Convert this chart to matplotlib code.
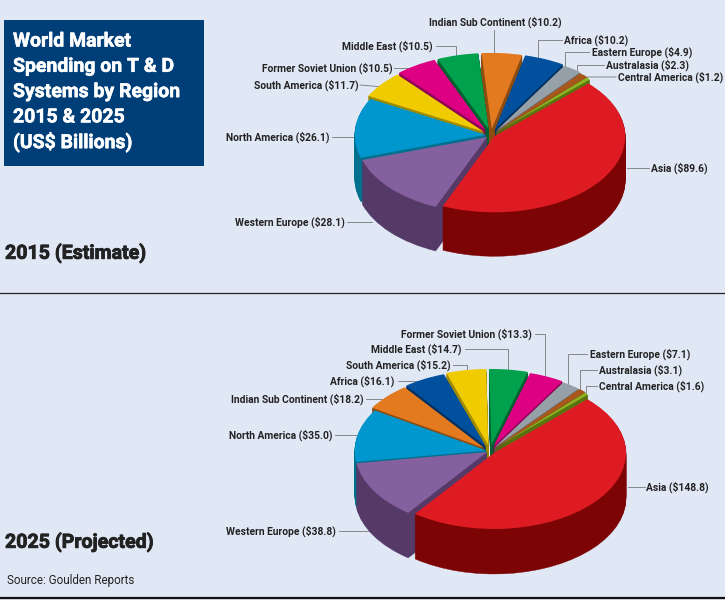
import math
import matplotlib
matplotlib.use("Agg")
import matplotlib.pyplot as plt
import matplotlib.patheffects as pe
from matplotlib.patches import Rectangle

W, H = 725, 600
BG = "#E0E8F5"
plt.rcParams['font.family'] = ['Roboto', 'Liberation Sans', 'DejaVu Sans']

# Data
regions_2015 = ["Asia", "Western Europe", "North America", "South America", "Former Soviet Union",
                "Middle East", "Indian Sub Continent", "Africa", "Eastern Europe", "Australasia",
                "Central America"]
values_2015 = [89.6, 28.1, 26.1, 11.7, 10.5, 10.5, 10.2, 10.2, 4.9, 2.3, 1.2]
regions_2025 = ["Asia", "Western Europe", "North America", "Indian Sub Continent", "Africa",
                "South America", "Middle East", "Former Soviet Union", "Eastern Europe", "Australasia",
                "Central America"]
values_2025 = [148.8, 38.8, 35.0, 18.2, 16.1, 15.2, 14.7, 13.3, 7.1, 3.1, 1.6]
title_lines = ["World Market", "Spending on T & D", "Systems by Region", "2015 & 2025", "(US$ Billions)"]

# Styles
top_col = {"Asia": "#DE1B23", "Western Europe": "#85609F", "North America": "#0096CE",
           "South America": "#EFCB00", "Former Soviet Union": "#DE0083", "Middle East": "#00A04D",
           "Indian Sub Continent": "#E47A20", "Africa": "#00509E", "Eastern Europe": "#96A0A8",
           "Australasia": "#A8581C", "Central America": "#8CB520"}
side_col = {"Asia": "#7D0404", "Western Europe": "#553A68", "North America": "#00708F",
            "South America": "#A08A00", "Former Soviet Union": "#8E0055", "Middle East": "#006030",
            "Indian Sub Continent": "#8E4D10", "Africa": "#003060", "Eastern Europe": "#646E76",
            "Australasia": "#6A3810", "Central America": "#5A7510"}

# label anchor (left x, centre y) and leader polyline, in pixels
layout_2015 = {
    "Indian Sub Continent": (429, 22.5, [(494, 30), (494, 56)]),
    "Middle East": (342, 46.5, [(436, 46), (456, 46), (456, 58)]),
    "Former Soviet Union": (262, 68.5, [(394, 68), (416, 68)]),
    "South America": (254, 85.5, [(360, 85), (383, 87)]),
    "North America": (226, 137.5, [(332, 137), (354, 137)]),
    "Western Europe": (235, 222.5, [(347, 222), (372, 222)]),
    "Asia": (651, 168.5, [(627, 168), (649, 168)]),
    "Central America": (618, 77.5, [(616, 77), (588, 77), (586, 80)]),
    "Australasia": (606, 65.5, [(604, 65), (577, 65), (577, 75)]),
    "Eastern Europe": (592, 52.5, [(589, 52), (565, 52), (565, 67)]),
    "Africa": (564, 40.5, [(562, 40), (538, 40), (538, 60)]),
}
layout_2025 = {
    "Former Soviet Union": (401, 334.5, [(535, 334), (545, 334), (545, 378)]),
    "Middle East": (371, 349.5, [(465, 349), (508, 349), (508, 372)]),
    "South America": (346, 365.5, [(453, 365), (467, 365), (467, 373)]),
    "Africa": (330, 381.5, [(398, 381), (430, 381)]),
    "Indian Sub Continent": (231, 399.5, [(366, 399), (390, 399)]),
    "North America": (229, 435.5, [(335, 435), (357, 435)]),
    "Western Europe": (226, 531.5, [(339, 531), (376, 531)]),
    "Asia": (646, 487.5, [(628, 487), (645, 487)]),
    "Eastern Europe": (590, 354.5, [(587, 354), (568, 354), (568, 385)]),
    "Australasia": (599, 370.5, [(597, 370), (580, 370), (580, 390)]),
    "Central America": (599, 386.5, [(597, 386), (586, 386), (586, 395)]),
}

fig = plt.figure(figsize=(W / 100, H / 100), dpi=100, facecolor=BG)
base = fig.add_axes([0, 0, 1, 1])
base.set_xlim(0, W)
base.set_ylim(H, 0)
base.axis("off")

base.add_patch(Rectangle((4, 20), 200, 146, color="#003E78", lw=0))
stroke = [pe.withStroke(linewidth=0.4, foreground="white")]
for i, line in enumerate(title_lines):
    base.text(13, 41.5 + i * 25.3, line, color="white", fontsize=14, fontweight="bold",
              va="center", ha="left", parse_math=False, path_effects=stroke)

dark = [pe.withStroke(linewidth=0.6, foreground="#222222")]
base.text(5, 253, "2015 (Estimate)", color="#222222", fontsize=14.1, fontweight="bold", va="center", path_effects=dark)
base.text(5, 542, "2025 (Projected)", color="#222222", fontsize=14.1, fontweight="bold", va="center", path_effects=dark)
base.text(7, 580.5, "Source: Goulden Reports", color="#222222", fontsize=8.4, va="center")
base.plot([0, W], [293, 293], color="#222222", lw=0.9)
base.plot([0, W], [598, 598], color="#111111", lw=1.6)


def draw_pie(regions, values, layout, cx, cy, rx, ry, depth, start, explode):
    ax = fig.add_axes([0, 0, 1, 1])
    ax.patch.set_visible(False)
    total = sum(values)
    angle = start
    ranks = []
    for reg, v in zip(regions, values):
        sweep = 360 * v / total
        ranks.append(-9 if reg == "Asia" else math.sin(math.radians(angle - sweep / 2)))
        angle -= sweep
    order = sorted(range(len(values)), key=lambda i: -ranks[i])
    z = {idx: 10 + n for n, idx in enumerate(order)}
    step = 1.0 / ry
    for k in range(depth, -1, -1):
        cols = [top_col[r] if k == 0 else side_col[r] for r in regions]
        wedges, _ = ax.pie(values, explode=explode, colors=cols, startangle=start, counterclock=False,
                           center=(0, -k * step), radius=1, frame=False,
                           wedgeprops={"linewidth": 0.3 if k else 0, "edgecolor": None})
        for i, w in enumerate(wedges):
            w.set_zorder(z[i] + (depth - k) / (depth + 2))
            if k:
                w.set_edgecolor(cols[i])
    ax.set_aspect("auto")
    ax.set_xlim((0 - cx) / rx, (W - cx) / rx)
    ax.set_ylim((cy - H) / ry, cy / ry)
    ax.axis("off")
    for reg, v in zip(regions, values):
        x, y, path = layout[reg]
        base.text(x, y, f"{reg} (${v:.1f})", fontsize=7.4, fontweight="bold", color="#222222",
                  va="center", ha="left", parse_math=False)
        base.plot([p[0] for p in path], [p[1] for p in path], color="#777777", lw=0.6)


draw_pie(regions_2015, values_2015, layout_2015, 491, 135, 131, 76, 44, 44,
         [0.03, 0.04, 0.04, 0.07, 0.08, 0.08, 0.08, 0.08, 0.07, 0.06, 0.05])
draw_pie(regions_2025, values_2025, layout_2025, 490, 451, 132, 76, 45, 45,
         [0.04, 0.025, 0.025, 0.06, 0.07, 0.08, 0.08, 0.07, 0.06, 0.06, 0.05])

fig.savefig("out.png", dpi=100, facecolor=BG)
